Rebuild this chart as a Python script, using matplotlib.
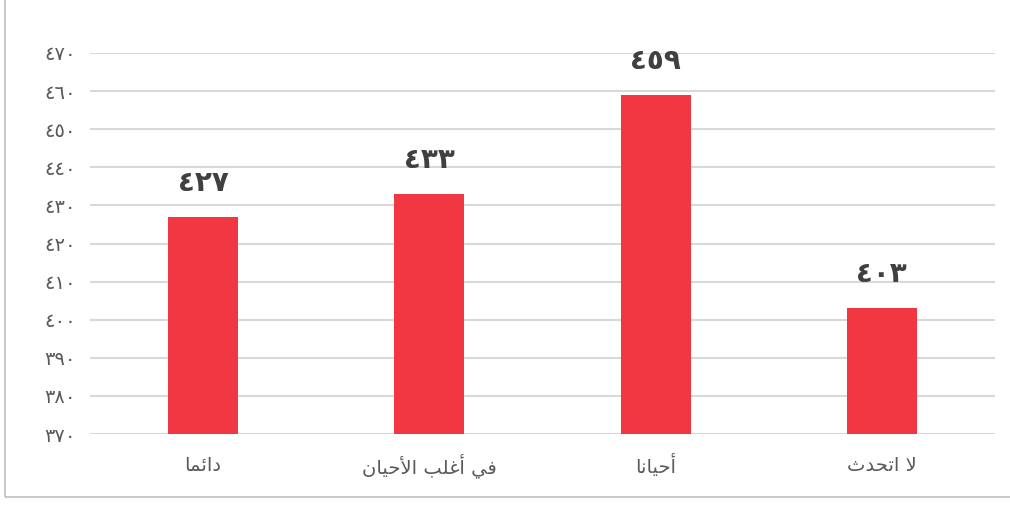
import matplotlib
matplotlib.use("Agg")
import matplotlib.pyplot as plt
from matplotlib.patches import Rectangle

categorias = ["دائما", "في أغلب الأحيان", "أحيانا", "لا اتحدث"]
valores = [427, 433, 459, 403]
ticks_y = [370, 380, 390, 400, 410, 420, 430, 440, 450, 460, 470]

# formas de apresentacao: (isolada, final, inicial, medial); None = nao liga a esquerda
FORMAS = {
    "ا": (0xFE8D, 0xFE8E, None, None),
    "أ": (0xFE83, 0xFE84, None, None),
    "د": (0xFEA9, 0xFEAA, None, None),
    "ئ": (0xFE89, 0xFE8A, 0xFE8B, 0xFE8C),
    "م": (0xFEE1, 0xFEE2, 0xFEE3, 0xFEE4),
    "ف": (0xFED1, 0xFED2, 0xFED3, 0xFED4),
    "ي": (0xFEF1, 0xFEF2, 0xFEF3, 0xFEF4),
    "غ": (0xFECD, 0xFECE, 0xFECF, 0xFED0),
    "ل": (0xFEDD, 0xFEDE, 0xFEDF, 0xFEE0),
    "ب": (0xFE8F, 0xFE90, 0xFE91, 0xFE92),
    "ح": (0xFEA1, 0xFEA2, 0xFEA3, 0xFEA4),
    "ن": (0xFEE5, 0xFEE6, 0xFEE7, 0xFEE8),
    "ت": (0xFE95, 0xFE96, 0xFE97, 0xFE98),
    "ث": (0xFE99, 0xFE9A, 0xFE9B, 0xFE9C),
}
LAM_ALEF = {"ا": (0xFEFB, 0xFEFC), "أ": (0xFEF7, 0xFEF8)}


def liga_esq(c):
    return c in FORMAS and FORMAS[c][2] is not None


def moldar(texto):
    saida = []
    i = 0
    while i < len(texto):
        c = texto[i]
        if c not in FORMAS:
            saida.append(c)
            i += 1
            continue
        antes = i > 0 and liga_esq(texto[i - 1])
        if c == "ل" and i + 1 < len(texto) and texto[i + 1] in LAM_ALEF:
            iso, fin = LAM_ALEF[texto[i + 1]]
            saida.append(chr(fin if antes else iso))
            i += 2
            continue
        depois = i + 1 < len(texto) and texto[i + 1] in FORMAS and liga_esq(c)
        iso, fin, ini, med = FORMAS[c]
        if antes and depois:
            cp = med
        elif antes:
            cp = fin
        elif depois:
            cp = ini
        else:
            cp = iso
        saida.append(chr(cp))
        i += 1
    return "".join(reversed(saida))


def arabe_num(n):
    return str(n).translate(str.maketrans("0123456789", "٠١٢٣٤٥٦٧٨٩"))


plt.rcParams['font.family'] = ['DejaVu Sans']
cinza = '#595959'

fig = plt.figure(figsize=(10.1, 5.05), dpi=100)
fig.patches.append(Rectangle((5 / 1010, 8 / 505), 1.0, 1.0, transform=fig.transFigure,
                             fill=False, edgecolor='#bfbfbf', linewidth=1.2))
ax = fig.add_axes([90 / 1010, 1 - 434 / 505, 905 / 1010, 381 / 505])

x = range(len(categorias))
ax.bar(x, valores, width=0.31, color='#F03742', zorder=3)
for xi, v in zip(x, valores):
    ax.text(xi, v + 5.3, arabe_num(v), ha='center', va='bottom', fontsize=20,
            fontweight='bold', color='#404040')

ax.set_xlim(-0.5, len(categorias) - 0.5)
ax.set_ylim(370, 470)
ax.set_yticks(ticks_y)
ax.set_yticklabels([arabe_num(t) for t in ticks_y], fontsize=14, color=cinza)
ax.set_xticks(list(x))
ax.set_xticklabels([moldar(c) for c in categorias], fontsize=14, color=cinza)
for t in ax.get_xticklabels():
    t.set_verticalalignment('center_baseline')
ax.tick_params(length=0, pad=10, axis='y')
ax.tick_params(length=0, pad=21, axis='x')
ax.grid(axis='y', color='#d9d9d9', linewidth=1.5, zorder=0)
for s in ax.spines.values():
    s.set_visible(False)

fig.savefig('out.png', dpi=100)
